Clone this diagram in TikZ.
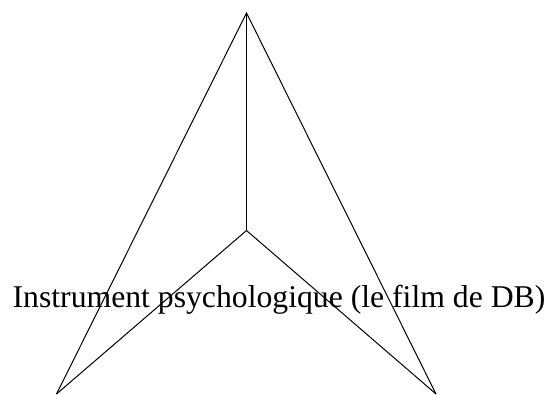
\documentclass[tikz,border=0pt]{standalone}
\usepackage{fontspec}
\setmainfont{Liberation Serif}
\begin{document}
\begin{tikzpicture}[x=1pt,y=1pt,edge/.style={draw=black,line width=1pt,line join=miter},lbl/.style={font=\fontsize{31.7}{36}\selectfont,inner sep=0pt,anchor=base}]
\useasboundingbox (0,0) rectangle (549,394);
\coordinate (top) at (246.5,381);
\coordinate (mid) at (246.5,163.5);
\coordinate (bl) at (56.5,0);
\coordinate (br) at (436,0);
\draw[edge] (bl) -- (top) -- (br);
\draw[edge] (top) -- (mid);
\draw[edge] (bl) -- (mid) -- (br);
\node[lbl] (label) at (279,87) {Instrument psychologique (le film de DB)};
\end{tikzpicture}
\end{document}
